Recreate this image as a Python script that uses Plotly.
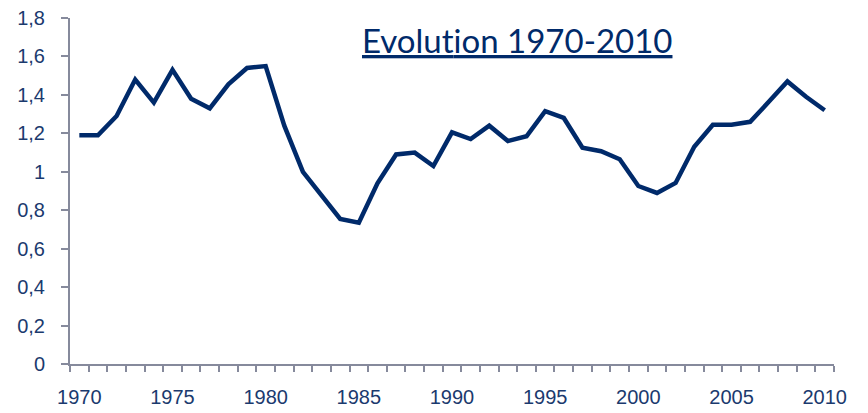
import plotly.graph_objects as go

years = list(range(1970, 2011))
values = [1.19, 1.19, 1.29, 1.48, 1.36, 1.53, 1.38, 1.33, 1.455, 1.54,
          1.55, 1.24, 1.00, 0.88, 0.755, 0.735, 0.94, 1.09, 1.10, 1.03,
          1.205, 1.17, 1.24, 1.16, 1.185, 1.315, 1.28, 1.125, 1.107, 1.065,
          0.926, 0.89, 0.942, 1.13, 1.245, 1.245, 1.26, 1.364, 1.47, 1.39,
          1.32]
x_labels = [1970, 1975, 1980, 1985, 1990, 1995, 2000, 2005, 2010]
y_ticks = [0, 0.2, 0.4, 0.6, 0.8, 1, 1.2, 1.4, 1.6, 1.8]

navy = "#002a6a"
text_col = "#1b3a6e"
axis_col = "#868a9c"

fig = go.Figure()
fig.add_trace(go.Scatter(x=years, y=values, mode="lines",
                         line=dict(color=navy, width=4.5), showlegend=False))

fig.update_layout(
    width=868, height=413,
    margin=dict(l=62, r=42, t=10, b=57, autoexpand=False),
    plot_bgcolor="white", paper_bgcolor="white",
    separators=", ",
    font=dict(family="Arial, Liberation Sans", size=20, color=text_col),
    xaxis=dict(range=[1969.5, 2010.5], tickvals=x_labels, ticks="", ticklen=0,
               showline=True, linecolor=axis_col, linewidth=2, showgrid=False,
               zeroline=False, ticklabelstandoff=14, automargin=False,
               ticklabeloverflow="allow",
               tickfont=dict(family="Arial, Liberation Sans", size=20, color=text_col),
               minor=dict(tick0=1969.5, dtick=1, ticks="outside", ticklen=6,
                          tickcolor=axis_col, tickwidth=2, showgrid=False)),
    yaxis=dict(range=[0, 1.8], tickvals=y_ticks, ticks="outside", ticklen=7,
               tickcolor=axis_col, tickwidth=2, showline=True, linecolor=axis_col,
               linewidth=2, showgrid=False, zeroline=False, ticklabelstandoff=12,
               automargin=False, ticklabeloverflow="allow",
               tickfont=dict(family="Arial, Liberation Sans", size=20, color=text_col)),
    annotations=[dict(text="<u>Evolut\u200cion 1970-2010</u>", xref="paper", yref="paper",
                      x=0.585, y=0.935, xanchor="center", yanchor="middle",
                      showarrow=False,
                      font=dict(family="Lato, Open Sans", size=33, color=navy))],
)

fig.write_html("out.html")
